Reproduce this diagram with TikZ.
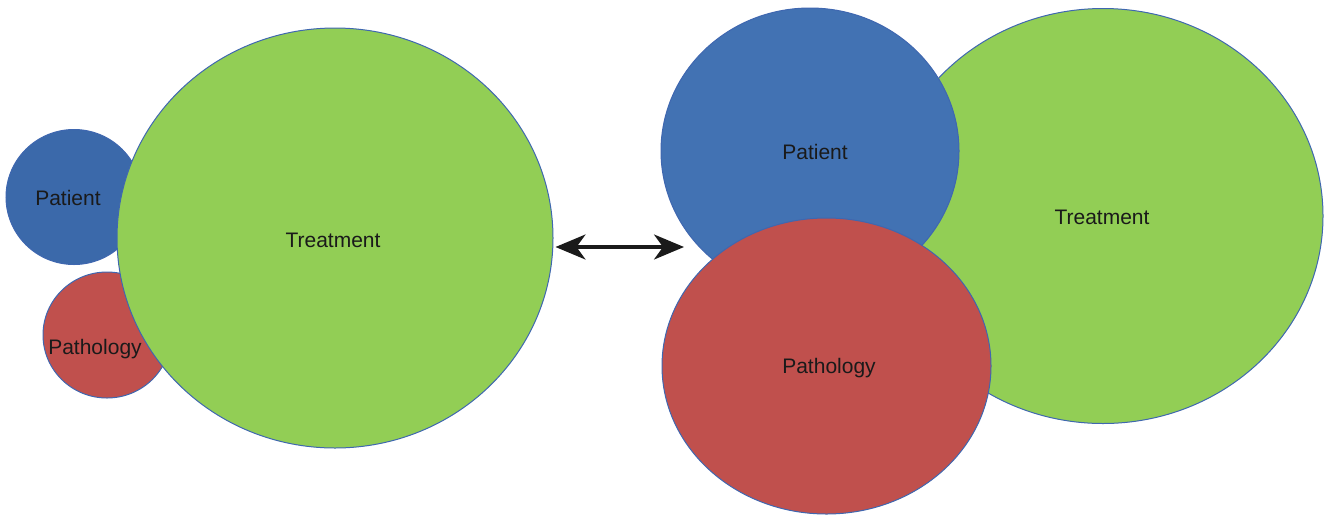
\documentclass[tikz,border=0pt]{standalone}
\usepackage{fontspec}
\setmainfont{Liberation Sans}
\usetikzlibrary{shapes.geometric,arrows.meta}
\definecolor{pblue}{HTML}{4272B3}
\definecolor{pblueL}{HTML}{3B69AA}
\definecolor{pred}{HTML}{C0504D}
\definecolor{pgreen}{HTML}{92CE55}
\definecolor{edge}{HTML}{3F67B0}
\definecolor{txt}{HTML}{1A1A1A}
\tikzset{
  blob/.style={ellipse, draw=edge, line width=1pt, inner sep=0pt},
  lbl/.style={text=txt, font=\fontsize{21}{25}\selectfont, inner sep=0pt},
}
\begin{document}
\begin{tikzpicture}[x=1pt,y=-1pt]
\useasboundingbox (0,0) rectangle (1324,515);
% left group
\node[blob, fill=pblueL, minimum width=136, minimum height=135] (lpat) at (74,197) {};
\node[lbl] (lpatT) at ([xshift=-6pt,yshift=-1pt]lpat.center) {Patient};
\node[blob, fill=pred, minimum width=128, minimum height=126] (lpath) at (107,335) {};
\node[blob, fill=pgreen, minimum width=436, minimum height=420] (ltreat) at (335,238) {};
\node[lbl] (ltreatT) at ([xshift=-2pt,yshift=-2pt]ltreat.center) {Treatment};
\node[lbl] (lpathT) at ([xshift=-12pt,yshift=-14pt]lpath.center) {Pathology};
% right group
\node[blob, fill=pgreen, minimum width=440, minimum height=415] (rtreat) at (1103,216) {};
\node[lbl] (rtreatT) at ([xshift=-1pt,yshift=-1pt]rtreat.center) {Treatment};
\node[blob, fill=pblue, minimum width=298, minimum height=286] (rpat) at (810,151) {};
\node[lbl] (rpatT) at ([xshift=5pt,yshift=-1pt]rpat.center) {Patient};
\node[blob, fill=pred, minimum width=329, minimum height=296] (rpath) at (826.5,366) {};
\node[lbl] (rpathT) at ([xshift=2.5pt,yshift=-2pt]rpath.center) {Pathology};
% arrow
\coordinate (aR) at (684,247);
\draw[line width=3.2pt, txt, {Stealth[length=30pt,width=25pt,inset=9pt]}-{Stealth[length=30pt,width=25pt,inset=9pt]}]
  ([xshift=2pt]ltreat.east |- aR) -- (aR);
\end{tikzpicture}
\end{document}
